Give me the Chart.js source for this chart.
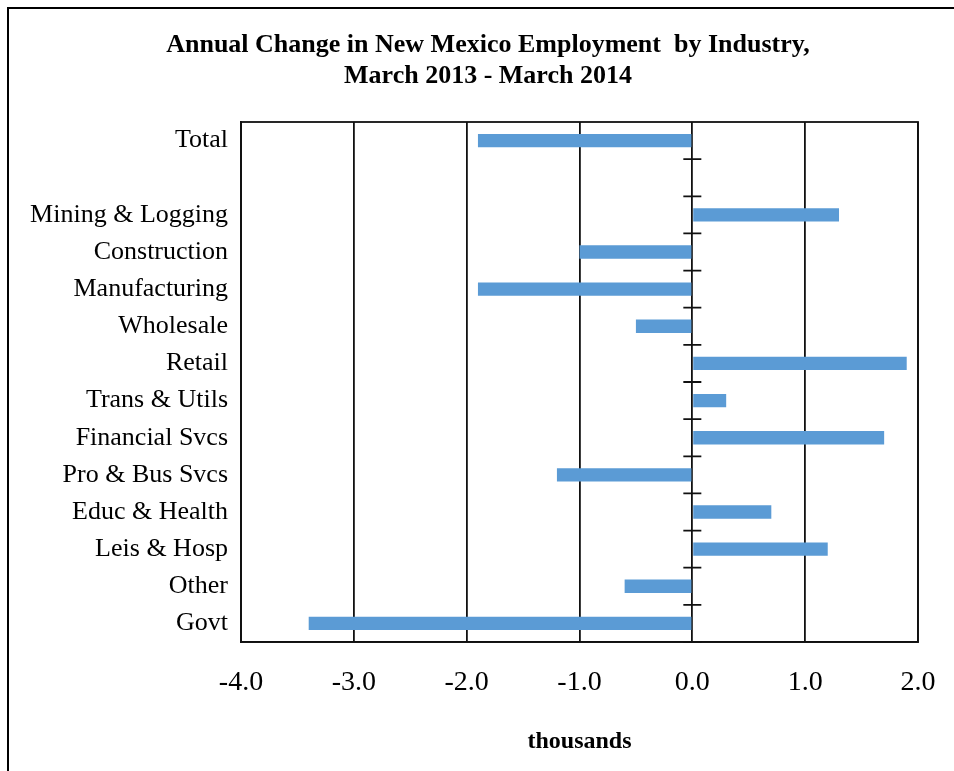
<!DOCTYPE html>
<html>
<head>
<meta charset="utf-8">
<script src="https://cdn.jsdelivr.net/npm/chart.js@4/dist/chart.umd.min.js"></script>
<style>
  html, body { margin: 0; padding: 0; background: #fff; }
  #wrap { width: 954px; height: 771px; position: relative; }
</style>
</head>
<body>
<div id="wrap"><canvas id="c" width="954" height="771"></canvas></div>
<script>
const titleLines = ['Annual Change in New Mexico Employment  by Industry,', 'March 2013 - March 2014'];
const axisTitle = 'thousands';
const categories = ['Total', '', 'Mining & Logging', 'Construction', 'Manufacturing', 'Wholesale', 'Retail',
  'Trans & Utils', 'Financial Svcs', 'Pro & Bus Svcs', 'Educ & Health', 'Leis & Hosp', 'Other', 'Govt'];
const changes = [-1.9, null, 1.3, -1.0, -1.9, -0.5, 1.9, 0.3, 1.7, -1.2, 0.7, 1.2, -0.6, -3.4];
const xMin = -4.0;
const xMax = 2.0;
const xStep = 1.0;

const SERIF = '"Liberation Serif", "Times New Roman", serif';

const framePlugin = {
  id: 'frame',
  beforeDraw(chart) {
    const ctx = chart.ctx;
    ctx.save();
    ctx.fillStyle = '#fff';
    ctx.fillRect(0, 0, chart.width, chart.height);
    ctx.strokeStyle = '#000';
    ctx.lineWidth = 2;
    ctx.beginPath();
    ctx.moveTo(8, chart.height);
    ctx.lineTo(8, 8);
    ctx.lineTo(chart.width, 8);
    ctx.stroke();
    ctx.restore();
  },
  afterDraw(chart) {
    const ctx = chart.ctx;
    const a = chart.chartArea;
    const xs = chart.scales.x;
    const ys = chart.scales.y;
    ctx.save();
    ctx.strokeStyle = '#111';
    ctx.lineWidth = 1.8;
    ctx.strokeRect(a.left, a.top, a.right - a.left, a.bottom - a.top);
    const x0 = xs.getPixelForValue(0);
    const n = categories.length;
    const step = (a.bottom - a.top) / n;
    ctx.lineWidth = 1.8;
    ctx.beginPath();
    for (let i = 1; i <= n; i++) {
      const y = ys.getPixelForValue(i - 1) + step / 2;
      ctx.moveTo(x0 - 9, y);
      ctx.lineTo(x0 + 9, y);
    }
    ctx.stroke();
    ctx.fillStyle = '#000';
    ctx.font = 'bold 26px ' + SERIF;
    ctx.textAlign = 'center';
    ctx.textBaseline = 'middle';
    ctx.fillText(titleLines[0], 488, 45);
    ctx.fillText(titleLines[1], 488, 76);
    ctx.restore();
  }
};

new Chart(document.getElementById('c'), {
  type: 'bar',
  data: {
    labels: categories,
    datasets: [{
      data: changes,
      backgroundColor: '#5B9BD5',
      borderWidth: 0,
      barPercentage: 0.36,
      categoryPercentage: 1.0
    }]
  },
  options: {
    indexAxis: 'y',
    responsive: false,
    animation: false,
    layout: { padding: { top: 122, right: 36, bottom: 0, left: 0 } },
    plugins: {
      legend: { display: false },
      title: { display: false },
      tooltip: { enabled: false }
    },
    scales: {
      x: {
        min: xMin,
        max: xMax,
        ticks: {
          stepSize: xStep,
          padding: 24,
          color: '#000',
          font: { family: SERIF, size: 28 },
          callback: (v) => Number(v).toFixed(1)
        },
        grid: { color: '#111', lineWidth: 1.8, drawTicks: false },
        border: { color: '#111', width: 1.8 },
        title: {
          display: true,
          text: axisTitle,
          color: '#000',
          font: { family: SERIF, size: 24, weight: 'bold' },
          padding: { top: 0, bottom: 15 }
        },
        afterFit(scale) {
          scale.height = 129;
          scale.paddingLeft = 0;
          scale.paddingRight = 0;
        }
      },
      y: {
        ticks: {
          padding: 13,
          color: '#000',
          font: { family: SERIF, size: 26 },
          autoSkip: false
        },
        grid: { display: false, drawTicks: false },
        border: { color: '#111', width: 1.8 },
        afterFit(scale) {
          scale.width = 241;
          scale.paddingTop = 0;
          scale.paddingBottom = 0;
        }
      }
    }
  },
  plugins: [framePlugin]
});
</script>
</body>
</html>
